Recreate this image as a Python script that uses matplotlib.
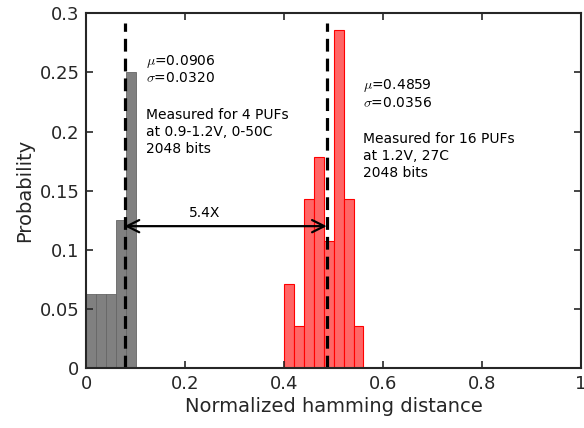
import numpy as np
import matplotlib.pyplot as plt

plt.rcParams['font.family'] = 'DejaVu Sans'
plt.rcParams['mathtext.fontset'] = 'cm'

# intra-chip (gray) and inter-chip (red) histograms, bin width 0.02
gray_left = [0.00, 0.02, 0.04, 0.06, 0.08]
gray_prob = [0.0625, 0.0625, 0.0625, 0.125, 0.25]
red_left = [0.40, 0.42, 0.44, 0.46, 0.48, 0.50, 0.52, 0.54]
red_prob = [0.0714, 0.0357, 0.1429, 0.1786, 0.1071, 0.2857, 0.1429, 0.0357]
bin_w = 0.02

gray_mark = 0.077
red_mark = 0.4859
gap_label = '5.4X'

x_ticks = [0, 0.2, 0.4, 0.6, 0.8, 1]
x_labels = ['0', '0.2', '0.4', '0.6', '0.8', '1']
y_ticks = [0, 0.05, 0.1, 0.15, 0.2, 0.25, 0.3]
y_labels = ['0', '0.05', '0.1', '0.15', '0.2', '0.25', '0.3']

fig = plt.figure(figsize=(5.84, 4.28), dpi=100)
ax = fig.add_axes([0.148, 0.14, 0.847, 0.829])

ax.bar(gray_left, gray_prob, width=bin_w, align='edge',
       color='#808080', edgecolor='#666666', lw=0.6)
ax.bar(red_left, red_prob, width=bin_w, align='edge',
       color='#ff6666', edgecolor='#ff0000', lw=0.8)

# dashed markers + arrow
for xm in (gray_mark, red_mark):
    ax.plot([xm, xm], [0, 0.292], color='k', lw=2.3, ls=(0, (4, 2.2)))
ax.annotate('', xy=(gray_mark, 0.12), xytext=(red_mark, 0.12),
            arrowprops=dict(arrowstyle='<->', lw=1.6, color='k',
                            mutation_scale=22, shrinkA=0, shrinkB=0))
ax.text(0.238, 0.131, gap_label, ha='center', va='center', fontsize=10)

ax.text(0.121, 0.259, r'$\mu$=0.0906', fontsize=10, va='center')
ax.text(0.121, 0.245, r'$\sigma$=0.0320', fontsize=10, va='center')
ax.text(0.121, 0.2195, 'Measured for 4 PUFs\nat 0.9-1.2V, 0-50C\n2048 bits',
        fontsize=10, va='top', linespacing=1.25)

ax.text(0.56, 0.239, r'$\mu$=0.4859', fontsize=10, va='center')
ax.text(0.56, 0.2245, r'$\sigma$=0.0356', fontsize=10, va='center')
ax.text(0.56, 0.1995, 'Measured for 16 PUFs\nat 1.2V, 27C\n2048 bits',
        fontsize=10, va='top', linespacing=1.25)

ax.set_xlim(0, 1)
ax.set_ylim(0, 0.3)
ax.set_xticks(x_ticks)
ax.set_xticklabels(x_labels)
ax.set_yticks(y_ticks)
ax.set_yticklabels(y_labels)
ax.tick_params(direction='in', top=True, right=True, length=5, width=1.2,
               labelsize=13, colors='#262626', pad=5)
for s in ax.spines.values():
    s.set_linewidth(1.5)
    s.set_color('#262626')
ax.set_xlabel('Normalized hamming distance', fontsize=14, color='#262626', labelpad=3)
ax.set_ylabel('Probability', fontsize=14, color='#262626', labelpad=4)

fig.savefig('out.png', dpi=100)
